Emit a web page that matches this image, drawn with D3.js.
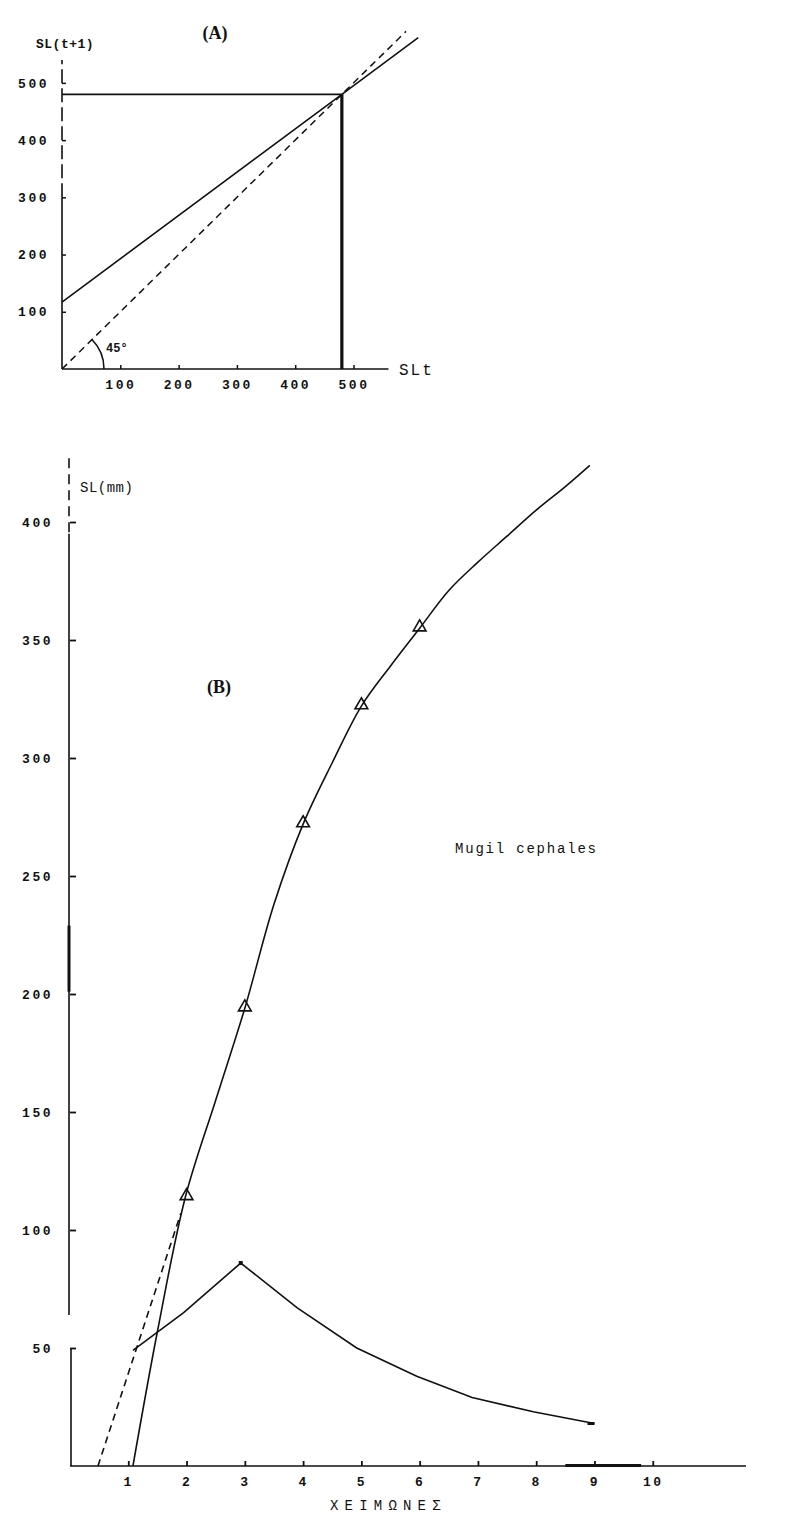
<!DOCTYPE html>
<html>
<head>
<meta charset="utf-8">
<script src="https://cdn.jsdelivr.net/npm/d3@7"></script>
<style>
  html, body { margin: 0; padding: 0; background: #fff; }
  svg { display: block; }
  .tick text { font-family: "Liberation Mono", "DejaVu Sans Mono", monospace; font-weight: bold; font-size: 13px; letter-spacing: 2.5px; fill: #111; }
  .lbl { font-family: "Liberation Mono", "DejaVu Sans Mono", monospace; fill: #111; }
  .ser { font-family: "Liberation Serif", "DejaVu Serif", serif; fill: #111; font-weight: bold; }
</style>
</head>
<body>
<script>
// ---- Panel A: Ford–Walford plot, SL(t+1) against SL(t) ----
const walfordX = [0, 480, 611];          // SL(t)
const walfordY = [117, 480, 579];        // SL(t+1)
const diagX = [0, 590];                  // 45° reference line
const diagY = [0, 590];
const lInf = 480;                        // asymptotic length
const tickA = [100, 200, 300, 400, 500];

// ---- Panel B: growth of Mugil cephales ----
const ageObs = [2, 3, 4, 5, 6];
const slObs = [114, 194, 272, 322, 355];
const ageFit = [1.08, 1.5, 1.98, 2.5, 3, 3.5, 4, 4.5, 5, 5.5, 6, 6.5, 7, 7.5, 8, 8.5, 8.92];
const slFit = [0, 57, 114, 155, 194, 238, 272, 298, 322, 339, 355, 371, 383, 394, 405, 415, 424];
const ageBack = [0.48, 1.9];             // back-extrapolated early growth
const slBack = [0, 107];
const ageInc = [1.08, 1.95, 2.93, 3.9, 4.92, 5.95, 6.9, 7.95, 9.0];
const incVal = [49, 65, 86, 67, 50, 38, 29, 23, 18];
const tickBx = [1, 2, 3, 4, 5, 6, 7, 8, 9, 10];
const tickBy = [50, 100, 150, 200, 250, 300, 350, 400];

const W = 794, H = 1518;
const svg = d3.select("body").append("svg").attr("width", W).attr("height", H);
svg.append("rect").attr("width", W).attr("height", H).attr("fill", "#fff");

const ink = "#111";
const line = d3.line().x(d => d[0]).y(d => d[1]);

// ================= Panel A =================
const xA = d3.scaleLinear().domain([0, 560]).range([62, 388.5]);
const yA = d3.scaleLinear().domain([0, 540]).range([369, 60]);
const gA = svg.append("g");

// axes lines
gA.append("line").attr("x1", xA(0)).attr("x2", xA(560)).attr("y1", yA(0)).attr("y2", yA(0))
  .attr("stroke", ink).attr("stroke-width", 1.6);
gA.append("line").attr("x1", xA(0)).attr("x2", xA(0)).attr("y1", yA(0)).attr("y2", yA(300))
  .attr("stroke", ink).attr("stroke-width", 1.6);
gA.append("line").attr("x1", xA(0)).attr("x2", xA(0)).attr("y1", yA(300)).attr("y2", yA(540))
  .attr("stroke", ink).attr("stroke-width", 1.6).attr("stroke-dasharray", "14,5");

const axAx = gA.append("g").attr("transform", `translate(0,${yA(0)})`)
  .call(d3.axisBottom(xA).tickValues(tickA).tickSizeInner(-4).tickSizeOuter(0).tickPadding(11));
const axAy = gA.append("g").attr("transform", `translate(${xA(0)},0)`)
  .call(d3.axisLeft(yA).tickValues(tickA).tickSizeInner(-4).tickSizeOuter(0).tickPadding(13));
[axAx, axAy].forEach(a => { a.select(".domain").remove(); a.selectAll("line").attr("stroke", ink).attr("stroke-width", 1.5); });

// 45° line (dashed)
gA.append("path").attr("d", line(diagX.map((v, i) => [xA(v), yA(diagY[i])])))
  .attr("fill", "none").attr("stroke", ink).attr("stroke-width", 1.5).attr("stroke-dasharray", "7,5");
// Walford regression line
gA.append("path").attr("d", line(walfordX.map((v, i) => [xA(v), yA(walfordY[i])])))
  .attr("fill", "none").attr("stroke", ink).attr("stroke-width", 1.6);
// L-infinity guides
gA.append("line").attr("x1", xA(0)).attr("x2", xA(lInf)).attr("y1", yA(lInf)).attr("y2", yA(lInf))
  .attr("stroke", ink).attr("stroke-width", 1.6);
gA.append("line").attr("x1", xA(lInf)).attr("x2", xA(lInf)).attr("y1", yA(0)).attr("y2", yA(lInf))
  .attr("stroke", ink).attr("stroke-width", 3.2);

// angle arc
gA.append("path")
  .attr("transform", `translate(${xA(0)},${yA(0)})`)
  .attr("d", d3.arc()({ innerRadius: 42, outerRadius: 42, startAngle: Math.PI / 4, endAngle: Math.PI / 2 }))
  .attr("fill", "none").attr("stroke", ink).attr("stroke-width", 1.6);
gA.append("text").attr("class", "lbl").attr("x", 106).attr("y", 352)
  .attr("font-size", 12).attr("font-weight", "bold").text("45°");

gA.append("text").attr("class", "ser").attr("x", 215).attr("y", 39).attr("text-anchor", "middle")
  .attr("font-size", 18).text("(A)");
gA.append("text").attr("class", "lbl").attr("x", 36).attr("y", 48)
  .attr("font-size", 13).attr("font-weight", "bold").attr("letter-spacing", 0.5).text("SL(t+1)");
gA.append("text").attr("class", "lbl").attr("x", 399).attr("y", 375)
  .attr("font-size", 16).attr("letter-spacing", 2).text("SLt");

// ================= Panel B =================
const xB = d3.scaleLinear().domain([0, 11.6]).range([70, 746]);
const yB = d3.scaleLinear().domain([0, 427]).range([1466, 458.3]);
const gB = svg.append("g");

// x axis line, with a heavier stretch near 9
gB.append("line").attr("x1", xB(0)).attr("x2", xB(11.6)).attr("y1", yB(0)).attr("y2", yB(0))
  .attr("stroke", ink).attr("stroke-width", 1.6);
gB.append("line").attr("x1", xB(8.5)).attr("x2", xB(9.8)).attr("y1", yB(0) - 0.5).attr("y2", yB(0) - 0.5)
  .attr("stroke", ink).attr("stroke-width", 3);
// y axis: dashed top, solid body with a heavier stretch and a break
gB.append("line").attr("x1", xB(0) - 1).attr("x2", xB(0) - 1).attr("y1", yB(427)).attr("y2", yB(395))
  .attr("stroke", ink).attr("stroke-width", 1.6).attr("stroke-dasharray", "10,6");
gB.append("line").attr("x1", xB(0) - 1).attr("x2", xB(0) - 1).attr("y1", yB(395)).attr("y2", yB(64))
  .attr("stroke", ink).attr("stroke-width", 1.6);
gB.append("line").attr("x1", xB(0) - 1).attr("x2", xB(0) - 1).attr("y1", yB(229)).attr("y2", yB(201))
  .attr("stroke", ink).attr("stroke-width", 3);
gB.append("line").attr("x1", xB(0) + 1).attr("x2", xB(0) + 1).attr("y1", yB(50)).attr("y2", yB(0))
  .attr("stroke", ink).attr("stroke-width", 1.6);

const axBx = gB.append("g").attr("transform", `translate(0,${yB(0)})`)
  .call(d3.axisBottom(xB).tickValues(tickBx).tickFormat(d3.format("d")).tickSizeInner(-5).tickSizeOuter(0).tickPadding(11));
const axBy = gB.append("g").attr("transform", `translate(${xB(0)},0)`)
  .call(d3.axisLeft(yB).tickValues(tickBy).tickSizeInner(-6).tickSizeOuter(0).tickPadding(17));
[axBx, axBy].forEach(a => { a.select(".domain").remove(); a.selectAll("line").attr("stroke", ink).attr("stroke-width", 1.8); });

// back-calculated early growth (dashed)
gB.append("path").attr("d", line(ageBack.map((v, i) => [xB(v), yB(slBack[i])])))
  .attr("fill", "none").attr("stroke", ink).attr("stroke-width", 1.6).attr("stroke-dasharray", "7,5");

// growth curve
const curve = d3.line().x(d => xB(d[0])).y(d => yB(d[1])).curve(d3.curveCatmullRom.alpha(0.5));
gB.append("path").attr("d", curve(ageFit.map((v, i) => [v, slFit[i]])))
  .attr("fill", "none").attr("stroke", ink).attr("stroke-width", 1.6);

// observed mean lengths
gB.selectAll(".obs").data(ageObs.map((v, i) => [v, slObs[i]])).join("path")
  .attr("class", "obs")
  .attr("transform", d => `translate(${xB(d[0])},${yB(d[1]) - 1})`)
  .attr("d", d3.symbol(d3.symbolTriangle, 70))
  .attr("fill", "none").attr("stroke", ink).attr("stroke-width", 1.6);

// annual increment curve
gB.append("path").attr("d", line(ageInc.map((v, i) => [xB(v), yB(incVal[i])])))
  .attr("fill", "none").attr("stroke", ink).attr("stroke-width", 1.6);
gB.append("rect").attr("x", xB(ageInc[ageInc.length - 1]) - 7).attr("y", yB(incVal[incVal.length - 1]) - 1.5)
  .attr("width", 7).attr("height", 3).attr("fill", ink);
gB.append("rect").attr("x", xB(ageInc[2]) - 2).attr("y", yB(incVal[2]) - 2)
  .attr("width", 4).attr("height", 4).attr("fill", ink);

gB.append("text").attr("class", "lbl").attr("x", 80).attr("y", 492)
  .attr("font-size", 14).attr("letter-spacing", 0.5).text("SL(mm)");
gB.append("text").attr("class", "ser").attr("x", 219).attr("y", 693).attr("text-anchor", "middle")
  .attr("font-size", 18).text("(B)");
gB.append("text").attr("class", "lbl").attr("x", 455).attr("y", 853)
  .attr("font-size", 14).attr("letter-spacing", 1.8).text("Mugil cephales");
gB.append("text").attr("class", "lbl").attr("x", 330).attr("y", 1510)
  .attr("font-size", 14).attr("letter-spacing", 6.2).text("ΧΕΙΜΩΝΕΣ");
</script>
</body>
</html>
